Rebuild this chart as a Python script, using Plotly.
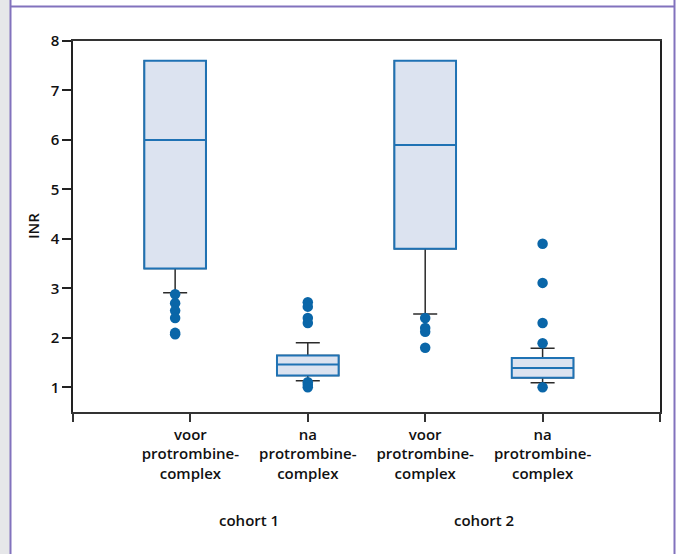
import plotly.graph_objects as go

# ---- data ----
categories = ["voor<br>protrombine-<br>complex", "na<br>protrombine-<br>complex",
              "voor<br>protrombine-<br>complex", "na<br>protrombine-<br>complex"]
cohorts = ["cohort 1", "cohort 2"]
tick_positions = [1, 2, 3, 4]
box_positions = [0.87, 2, 3, 4]

lowerfence = [2.91, 1.13, 2.48, 1.09]
q1 = [3.40, 1.24, 3.80, 1.19]
median = [6.00, 1.46, 5.90, 1.39]
q3 = [7.60, 1.64, 7.60, 1.59]
upperfence = [7.60, 1.90, 7.60, 1.79]

outliers_1 = [2.88, 2.70, 2.55, 2.40, 2.10, 2.07]
outliers_2 = [2.72, 2.63, 2.40, 2.30, 1.10, 1.05, 1.00]
outliers_3 = [2.40, 2.20, 2.12, 1.80]
outliers_4 = [3.90, 3.11, 2.30, 1.89, 1.00]
y_ticks = [1, 2, 3, 4, 5, 6, 7, 8]

# ---- style ----
W, H = 676, 554
ML, MR, MT, MB = 73, 16, 41, 142
PW, PH = W - ML - MR, H - MT - MB
FONT = "Open Sans"
BOX_LINE = "#1f72b4"
BOX_FILL = "#dce3f0"
DOT = "#0a66a8"
PURPLE = "#8272bd"
STRIP = "#e6e7e9"


def px_x(px):
    return (px - ML) / PW


def px_y(py):
    return 1 - (py - MT) / PH


fig = go.Figure()

# whiskers layer (dark)
fig.add_trace(go.Box(
    x=box_positions, q1=q1, median=median, q3=q3,
    lowerfence=lowerfence, upperfence=upperfence,
    width=0.525, whiskerwidth=0.39,
    fillcolor=BOX_FILL, line=dict(color="#2b2b2b", width=1.5),
    hoverinfo="skip", showlegend=False,
))
# box layer (blue) on top
fig.add_trace(go.Box(
    x=box_positions, q1=q1, median=median, q3=q3,
    lowerfence=q1, upperfence=q3,
    width=0.525, whiskerwidth=0.0,
    fillcolor=BOX_FILL, line=dict(color=BOX_LINE, width=2),
    showlegend=False,
))

all_out = [outliers_1, outliers_2, outliers_3, outliers_4]
for pos, vals in zip(box_positions, all_out):
    fig.add_trace(go.Scatter(
        x=[pos] * len(vals), y=vals, mode="markers",
        marker=dict(color=DOT, size=10.5),
        showlegend=False,
    ))

tickfont = dict(family=FONT, size=15, color="#111", weight=600)

fig.update_layout(
    width=W, height=H,
    margin=dict(l=ML, r=MR, t=MT, b=MB),
    paper_bgcolor="rgba(0,0,0,0)", plot_bgcolor="white",
    boxmode="overlay",
    font=dict(family=FONT),
    xaxis=dict(
        range=[0, 5], tickmode="array",
        tickvals=[0] + tick_positions + [5],
        ticktext=[""] + categories + [""],
        ticks="outside", ticklen=8, tickwidth=1.5, tickcolor="#333",
        showline=True, linecolor="#333", linewidth=1.5, mirror=True,
        showgrid=False, zeroline=False, tickfont=tickfont,
    ),
    yaxis=dict(
        range=[0.5, 8], tickmode="array", tickvals=y_ticks,
        ticks="outside", ticklen=9, tickwidth=1.5, tickcolor="#222",
        showline=True, linecolor="#222", linewidth=1.5, mirror=True,
        showgrid=False, zeroline=False, tickfont=tickfont,
    ),
)

annotations = [
    dict(text="INR", x=px_x(33), y=px_y(226), xref="paper", yref="paper",
         textangle=-90, showarrow=False, font=tickfont,
         xanchor="center", yanchor="middle"),
]
for i, c in enumerate(cohorts):
    annotations.append(dict(
        text=c, x=(tick_positions[2 * i] + tick_positions[2 * i + 1]) / 2,
        xref="x", y=px_y(520), yref="paper", showarrow=False,
        font=tickfont, xanchor="center", yanchor="middle"))
fig.update_layout(annotations=annotations)

shapes = [
    dict(type="rect", xref="paper", yref="paper", x0=px_x(0), x1=px_x(10),
         y0=px_y(H), y1=px_y(0), fillcolor=STRIP, line=dict(width=0),
         layer="above"),
    dict(type="line", xref="paper", yref="paper", x0=px_x(10.5), x1=px_x(10.5),
         y0=px_y(H), y1=px_y(0), line=dict(color=PURPLE, width=2), layer="above"),
    dict(type="line", xref="paper", yref="paper", x0=px_x(674.5), x1=px_x(674.5),
         y0=px_y(H), y1=px_y(0), line=dict(color=PURPLE, width=2), layer="above"),
    dict(type="line", xref="paper", yref="paper", x0=px_x(10), x1=px_x(675),
         y0=px_y(6.5), y1=px_y(6.5), line=dict(color=PURPLE, width=2), layer="above"),
]
fig.update_layout(shapes=shapes)

page_css = (
    "document.documentElement.style.margin='0';"
    "document.body.style.margin='0';"
    "document.body.style.overflow='hidden';"
    "document.body.style.background='linear-gradient(to right, "
    + STRIP + " 0px, " + STRIP + " 9.5px, " + PURPLE + " 9.5px, " + PURPLE
    + " 11.5px, white 11.5px)';"
)

fig.write_html("out.html", config={"displayModeBar": False}, post_script=page_css)
